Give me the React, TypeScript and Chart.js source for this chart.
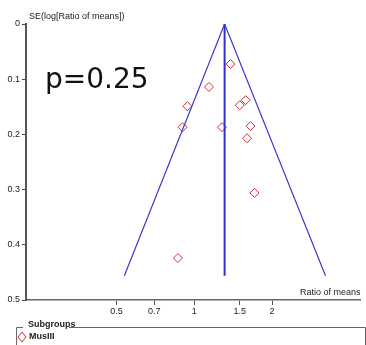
import React, { useEffect, useRef } from "react";
import { Chart, registerables } from "chart.js";

Chart.register(...registerables);

// Study estimates: ratio of means and SE(log ratio)
const ratioValues = [1.38, 1.14, 0.94, 1.50, 1.58, 0.90, 1.28, 1.65, 1.60, 1.71, 0.864];
const seValues = [0.0725, 0.114, 0.149, 0.147, 0.138, 0.187, 0.187, 0.185, 0.207, 0.306, 0.424];

const pooledRatio = 1.31;
const funnelSE = 0.456;
const funnelLeft = 0.536;
const funnelRight = 3.22;

const xTicks = [0.5, 0.7, 1, 1.5, 2];
const yTicks = [0, 0.1, 0.2, 0.3, 0.4, 0.5];

const pText = "p=0.25";
const yTitle = "SE(log[Ratio of means])";
const xTitle = "Ratio of means";
const legendTitle = "Subgroups";
const legendItem = "MusIII";

const FONT = "'Liberation Sans Narrow', 'Liberation Sans', Arial, sans-serif";

export default function App() {
  const ref = useRef<HTMLCanvasElement | null>(null);

  useEffect(() => {
    document.body.style.margin = "0";
    const canvas = ref.current;
    if (!canvas) return;

    const overlay = {
      id: "overlay",
      afterDraw(chart: any) {
        const ctx = chart.ctx;
        const area = chart.chartArea;
        ctx.save();
        ctx.fillStyle = "#111";
        ctx.textBaseline = "alphabetic";
        ctx.font = "28px 'DejaVu Sans', 'Noto Sans', sans-serif";
        ctx.textAlign = "left";
        ctx.fillText(pText, 45, 88);

        ctx.font = `9px ${FONT}`;
        ctx.fillStyle = "#222";
        ctx.textBaseline = "middle";
        ctx.fillText(yTitle, area.left + 3, 17);
        ctx.textAlign = "right";
        ctx.fillText(xTitle, area.right, 293);

        // legend frame
        ctx.strokeStyle = "#666";
        ctx.lineWidth = 1;
        ctx.beginPath();
        ctx.moveTo(16.5, 345);
        ctx.lineTo(16.5, 327.5);
        ctx.lineTo(23, 327.5);
        ctx.moveTo(69, 327.5);
        ctx.lineTo(365.5, 327.5);
        ctx.lineTo(365.5, 345);
        ctx.stroke();
        ctx.textAlign = "left";
        ctx.font = `bold 9px ${FONT}`;
        ctx.fillStyle = "#222";
        ctx.fillText(legendTitle, 28, 325);
        ctx.fillText(legendItem, 29, 337);
        // diamond
        ctx.strokeStyle = "#d03030";
        ctx.beginPath();
        ctx.moveTo(22, 332);
        ctx.lineTo(26, 337);
        ctx.lineTo(22, 342);
        ctx.lineTo(18, 337);
        ctx.closePath();
        ctx.stroke();
        ctx.restore();
      },
    };

    const chart = new Chart(canvas, {
      type: "scatter",
      data: {
        datasets: [
          {
            label: "funnel",
            data: [
              { x: funnelLeft, y: funnelSE },
              { x: pooledRatio, y: 0 },
              { x: funnelRight, y: funnelSE },
            ],
            showLine: true,
            borderColor: "#3a3ad0",
            borderWidth: 1.2,
            pointRadius: 0,
            fill: false,
          },
          {
            label: "pooled",
            data: [
              { x: pooledRatio, y: 0 },
              { x: pooledRatio, y: funnelSE },
            ],
            showLine: true,
            borderColor: "#3030cc",
            borderWidth: 2,
            pointRadius: 0,
            fill: false,
          },
          {
            label: legendItem,
            data: ratioValues.map((r, i) => ({ x: r, y: seValues[i] })),
            pointStyle: "rectRot",
            pointRadius: 4.5,
            pointBorderColor: "#d03030",
            pointBackgroundColor: "rgba(0,0,0,0)",
            pointBorderWidth: 1,
            borderColor: "#d03030",
          },
        ],
      },
      options: {
        animation: false,
        responsive: false,
        devicePixelRatio: 1,
        layout: { padding: { left: 0, top: 24, right: 3, bottom: 0 } },
        plugins: {
          legend: { display: false },
          tooltip: { enabled: false },
        },
        scales: {
          x: {
            type: "logarithmic",
            min: 0.223,
            max: 4.4,
            afterBuildTicks(scale: any) {
              scale.ticks = xTicks.map((v) => ({ value: v }));
            },
            afterFit(scale: any) {
              scale.height = 45;
            },
            ticks: {
              autoSkip: false,
              maxRotation: 0,
              padding: 1,
              color: "#222",
              font: { family: FONT, size: 9 },
              callback: (v: any) => String(v),
            },
            grid: {
              drawOnChartArea: false,
              tickLength: 5,
              color: "#555",
              lineWidth: 1,
            },
            border: { display: true, color: "#666", width: 1.5 },
          },
          y: {
            type: "linear",
            reverse: true,
            min: 0,
            max: 0.5,
            afterBuildTicks(scale: any) {
              scale.ticks = yTicks.map((v) => ({ value: v }));
            },
            afterFit(scale: any) {
              scale.width = 26;
            },
            ticks: {
              padding: 2,
              color: "#222",
              font: { family: FONT, size: 9 },
              callback: (v: any) => String(v),
            },
            grid: {
              drawOnChartArea: false,
              tickLength: 4,
              color: "#444",
              lineWidth: 1,
            },
            border: { display: true, color: "#555", width: 2 },
          },
        },
      },
      plugins: [overlay],
    });

    return () => chart.destroy();
  }, []);

  return <canvas ref={ref} width={366} height={345} style={{ display: "block" }} />;
}
